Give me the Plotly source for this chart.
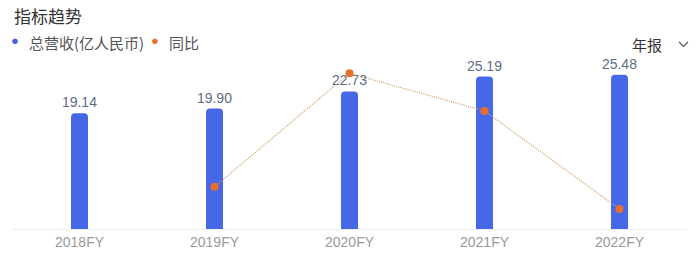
import plotly.graph_objects as go

categories = ["2018FY", "2019FY", "2020FY", "2021FY", "2022FY"]
revenue = [19.14, 19.90, 22.73, 25.19, 25.48]
yoy_x = ["2019FY", "2020FY", "2021FY", "2022FY"]
yoy = [3.97, 14.22, 10.82, 1.95]
revenue_labels = ["19.14", "19.90", "22.73", "25.19", "25.48"]

W, H = 699, 267
L, R, T, B = 12, 12, 47, 38
PW, PH = W - L - R, H - T - B

def px(x):
    return (x - L) / PW

def py(y):
    return (H - B - y) / PH

FONT = "Liberation Sans, Arial, Noto Sans CJK SC, sans-serif"
CJK = "Noto Sans CJK SC, Liberation Sans, sans-serif"
BLUE = "#4668e6"
ORANGE = "#e8702c"

fig = go.Figure()
fig.add_trace(go.Bar(
    x=categories, y=revenue, width=0.126,
    marker=dict(color=BLUE, cornerradius=4, line=dict(width=0)),
    text=revenue_labels, textposition="outside", cliponaxis=False,
    constraintext="none",
    textfont=dict(size=14, color="#5e6b85", family=FONT),
    showlegend=False, hoverinfo="skip",
))
fig.add_trace(go.Scatter(
    x=yoy_x, y=yoy, yaxis="y2", mode="lines+markers",
    line=dict(color="#cf9a62", width=1.2, dash="1px,1.2px"),
    marker=dict(color=ORANGE, size=8),
    showlegend=False, hoverinfo="skip", cliponaxis=False,
))

ann = [
    dict(text="指标趋势", x=px(12), y=py(16), xanchor="left", yanchor="middle",
         font=dict(size=17, color="#333333", family=CJK)),
    dict(text="●", x=px(15), y=py(41), xanchor="center", yanchor="middle",
         font=dict(size=13, color="#4a62d6", family=FONT)),
    dict(text="总营收(亿人民币)", x=px(27), y=py(42), xanchor="left", yanchor="middle",
         font=dict(size=15, color="#555555", family=CJK)),
    dict(text="●", x=px(155), y=py(41), xanchor="center", yanchor="middle",
         font=dict(size=13, color=ORANGE, family=FONT)),
    dict(text="同比", x=px(167), y=py(42), xanchor="left", yanchor="middle",
         font=dict(size=15, color="#555555", family=CJK)),
    dict(text="年报", x=px(630), y=py(44), xanchor="left", yanchor="middle",
         font=dict(size=15, color="#333333", family=CJK)),
]
for a in ann:
    a.update(xref="paper", yref="paper", showarrow=False)

fig.update_layout(
    width=W, height=H,
    margin=dict(l=L, r=R, t=T, b=B, pad=0),
    paper_bgcolor="white", plot_bgcolor="white",
    bargap=0.5,
    annotations=ann,
    shapes=[dict(type="path", xref="paper", yref="paper",
                 path=f"M {px(679)} {py(42)} L {px(683.5)} {py(46.5)} L {px(688)} {py(42)}",
                 line=dict(color="#555555", width=1.2))],
    xaxis=dict(range=[-0.5, 4.5], showgrid=False, showline=True, linecolor="#ededed",
               linewidth=1, ticks="", zeroline=False,
               tickfont=dict(size=14, color="#999999", family=FONT)),
    yaxis=dict(range=[0, 30.08], visible=False, showgrid=False, zeroline=False),
    yaxis2=dict(range=[0.145, 16.6], overlaying="y", side="right", visible=False,
                showgrid=False, zeroline=False),
)

fig.write_html("out.html")
